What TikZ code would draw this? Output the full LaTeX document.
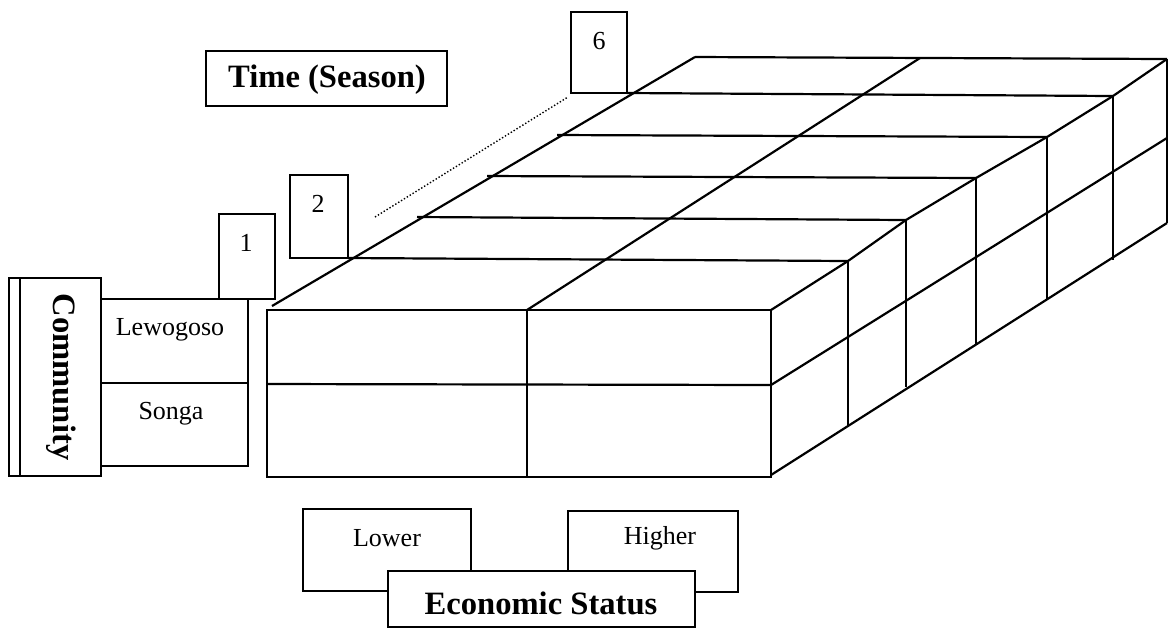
\documentclass[tikz,border=0pt]{standalone}
\usepackage{fontspec}
\setmainfont{Liberation Serif}
\begin{document}
\begin{tikzpicture}[x=0.5pt,y=-0.5pt, line width=1.1pt, line join=miter,
  lab/.style={font=\fontsize{13}{15}\selectfont, inner sep=0pt},
  blab/.style={font=\fontsize{16.3}{19}\selectfont\bfseries, inner sep=0pt},
  frame/.style={draw, line width=1.1pt, fill=white},
  dots/.style={densely dotted, line width=0.7pt}]
\useasboundingbox (0,0) rectangle (1174,629);

% ---- Community axis ----
\draw[frame] (9,278) rectangle (101,476);
\draw (20,278) -- (20,476);
\node[blab, rotate=-90] (community) at (61,377) {Community};
\draw[frame] (101,299) rectangle (248,466);
\draw (101,383) -- (248,383);
\node[lab] (lewogoso) at (170,330) {Lewogoso};
\node[lab] (songa) at (171,414) {Songa};

% ---- Time axis labels ----
\draw[frame] (206,51) rectangle (447,106);
\node[blab] (time) at (327,80) {Time (Season)};
\draw[frame] (219,214) rectangle (275,299);
\node[lab] (t1) at (246,243) {1};
\draw[frame] (290,175) rectangle (348,258);
\node[lab] (t2) at (318,204) {2};
\draw[frame] (571,12) rectangle (627,93);
\node[lab] (t6) at (599,41) {6};
\coordinate (dotA) at (375,217);
\coordinate (dotB) at (568,97);
\draw[dots] (dotA) -- (dotB);

% ---- Front face ----
\draw (267,310) rectangle (771,477);
\draw (267,384) -- (771,385);
\draw (527,310) -- (527,477);

% ---- Top face ----
\draw (272,306) -- (695,57);
\draw (527,310) -- (920,58);
\draw (348,258) -- (848,261);
\draw (417,217) -- (906,220);
\draw (487,176) -- (976,178);
\draw (557,135) -- (1047,137);
\draw (627,93) -- (1113,96);
\draw (695,57) -- (1167,59);

% ---- Side face ----
\draw (771,310) -- (848,261) -- (906,220) -- (976,178) -- (1047,137) -- (1113,96) -- (1167,59);
\draw (771,385) -- (1167,138);
\draw (771,475) -- (1167,223);
\draw (848,261) -- (848,426);
\draw (906,220) -- (906,387);
\draw (976,178) -- (976,344);
\draw (1047,137) -- (1047,300);
\draw (1113,96) -- (1113,260);
\draw (1167,59) -- (1167,223);

% ---- Economic status axis ----
\draw[frame] (303,509) rectangle (471,591);
\node[lab] (lower) at (387,538) {Lower};
\draw[frame] (568,511) rectangle (738,592);
\node[lab] (higher) at (660,538) {Higher};
\draw[frame] (388,571) rectangle (695,627);
\node[blab] (econ) at (541,603) {Economic Status};
\end{tikzpicture}
\end{document}
